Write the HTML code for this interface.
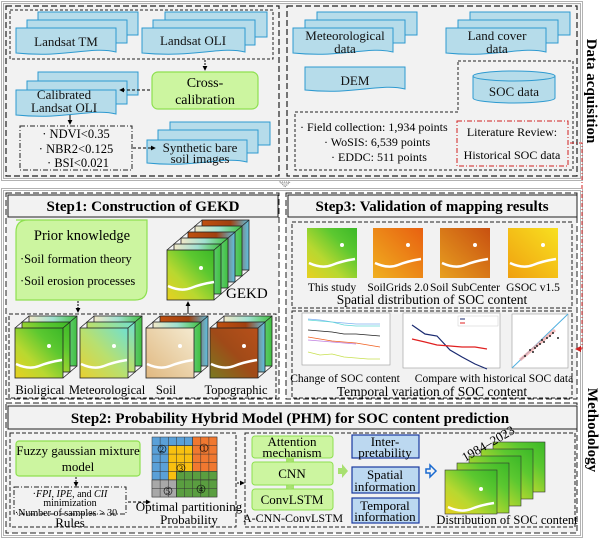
<!DOCTYPE html>
<html><head><meta charset="utf-8"><style>
html,body{margin:0;padding:0;background:#fff;}
svg{display:block;font-family:"Liberation Serif",serif;}
</style></head><body>
<svg width="600" height="540" viewBox="0 0 600 540" xmlns="http://www.w3.org/2000/svg">
<defs>
<linearGradient id="gm" x1="0" y1="1" x2="1" y2="0"><stop offset="0" stop-color="#e8d020"/><stop offset="0.35" stop-color="#b8d830"/><stop offset="0.7" stop-color="#5cc830"/><stop offset="1" stop-color="#3cb828"/></linearGradient>
<linearGradient id="mm" x1="0" y1="1" x2="1" y2="0"><stop offset="0" stop-color="#e8d030"/><stop offset="0.5" stop-color="#b8e070"/><stop offset="1" stop-color="#70e0d0"/></linearGradient>
<linearGradient id="sm" x1="0" y1="1" x2="1" y2="0"><stop offset="0" stop-color="#e0b880"/><stop offset="1" stop-color="#f4ead0"/></linearGradient>
<linearGradient id="tm" x1="0" y1="1" x2="1" y2="0"><stop offset="0" stop-color="#7a7a20"/><stop offset="0.5" stop-color="#a04a18"/><stop offset="1" stop-color="#b8501a"/></linearGradient>
<linearGradient id="om" x1="0" y1="1" x2="1" y2="0"><stop offset="0" stop-color="#f0b020"/><stop offset="1" stop-color="#e86010"/></linearGradient>
<linearGradient id="bm" x1="0" y1="1" x2="1" y2="0"><stop offset="0" stop-color="#e8a020"/><stop offset="1" stop-color="#c85010"/></linearGradient>
<linearGradient id="ym" x1="0" y1="1" x2="1" y2="0"><stop offset="0" stop-color="#f0a010"/><stop offset="1" stop-color="#f8e020"/></linearGradient>
<linearGradient id="lay" x1="0" y1="0" x2="1" y2="0"><stop offset="0" stop-color="#f0e8c8"/><stop offset="0.5" stop-color="#a0e0d0"/><stop offset="1" stop-color="#40c040"/></linearGradient>
<linearGradient id="lay2" x1="0" y1="0" x2="1" y2="0"><stop offset="0" stop-color="#c05010"/><stop offset="0.6" stop-color="#a04010"/><stop offset="1" stop-color="#60c0e0"/></linearGradient>
<marker id="ah" viewBox="0 0 6 6" refX="5" refY="3" markerWidth="5" markerHeight="5" orient="auto"><path d="M0,0L6,3L0,6z" fill="#000"/></marker>
<marker id="ahr" viewBox="0 0 6 6" refX="5" refY="3" markerWidth="6" markerHeight="6" orient="auto"><path d="M0,0L6,3L0,6z" fill="#d02020"/></marker>
<g id="stripe"><path d="M2,34 Q15,40 25,36 T48,30" stroke="#fff" stroke-width="2.5" fill="none"/><circle cx="35" cy="16" r="2" fill="#fff"/></g>
</defs>

<!-- ========== DATA ACQUISITION ========== -->
<rect x="1.5" y="1.5" width="581" height="179" fill="#fff" stroke="#666" stroke-width="1" stroke-dasharray="1,1"/>
<rect x="3.5" y="3.5" width="577" height="175" fill="#f2f2f2" stroke="#666" stroke-width="1" stroke-dasharray="1,1"/>
<rect x="6" y="6" width="273" height="170" fill="#f2f2f2" stroke="#222" stroke-width="1.2" stroke-dasharray="6,3"/>
<rect x="287" y="6" width="290" height="170" fill="#f2f2f2" stroke="#222" stroke-width="1.2" stroke-dasharray="6,3"/>
<rect x="10" y="10" width="263" height="49" fill="none" stroke="#222" stroke-width="1" stroke-dasharray="3,2"/>

<g fill="#b6dcea" stroke="#2e9ad0" stroke-width="1">
<path d="M38,12h100v23h-100z"/><path d="M27,20h100v23h-100z"/><path d="M16,28h100v24c-25,-6 -50,6 -100,1z"/>
<path d="M165,12h102v25h-102z"/><path d="M153,20h102v25h-102z"/><path d="M142,28h103v24c-25,-6 -50,6 -103,1z"/>
<path d="M38,72h100v23h-100z"/><path d="M27,81h100v23h-100z"/><path d="M16,90h100v24c-25,-6 -50,6 -100,1z"/>
<path d="M170,122h100v23h-100z"/><path d="M158,130h100v23h-100z"/><path d="M147,140h100v22c-25,-6 -50,6 -100,1z"/>
<path d="M317,12h100v23h-100z"/><path d="M305,20h100v23h-100z"/><path d="M293,28h100v24c-25,-6 -50,6 -100,1z"/>
<path d="M470,12h100v23h-100z"/><path d="M458,20h100v23h-100z"/><path d="M446,28h100v24c-25,-6 -50,6 -100,1z"/>
<path d="M305,67h100v22c-25,-6 -50,6 -100,1z"/>
<path d="M473,76v22a41,5 0 0 0 82,0v-22z"/><ellipse cx="514" cy="76" rx="41" ry="5"/>
</g>
<g font-size="13" text-anchor="middle" fill="#111">
<text x="66" y="46">Landsat TM</text>
<text x="193" y="45">Landsat OLI</text>
<text x="64" y="99">Calibrated</text>
<text x="64" y="112">Landsat OLI</text>
<text x="200" y="152">Synthetic bare</text>
<text x="200" y="163">soil images</text>
<text x="345" y="40">Meteorological</text>
<text x="345" y="53">data</text>
<text x="497" y="40">Land cover</text>
<text x="497" y="53">data</text>
<text x="355" y="85">DEM</text>
<text x="514" y="96">SOC data</text>
</g>
<path d="M205,60V70" stroke="#000" stroke-dasharray="2,1" marker-end="url(#ah)"/>
<rect x="152" y="72" width="106" height="37" rx="6" fill="#ccf5a0" stroke="#8ee050" stroke-width="1.2"/>
<text x="205" y="87" font-size="14" text-anchor="middle">Cross-</text>
<text x="205" y="104" font-size="14" text-anchor="middle">calibration</text>
<path d="M150,90H120" stroke="#000" stroke-dasharray="3,2" marker-end="url(#ah)"/>
<path d="M70,115V124" stroke="#000" marker-end="url(#ah)"/>
<rect x="20" y="126" width="112" height="44" fill="none" stroke="#222" stroke-dasharray="5,2,1,2"/>
<g font-size="12.5" text-anchor="middle"><text x="76" y="138">· NDVI&lt;0.35</text><text x="76" y="153">· NBR2&lt;0.125</text><text x="78" y="167">· BSI&lt;0.021</text></g>
<path d="M133,148H155" stroke="#000" stroke-dasharray="3,2" marker-end="url(#ah)"/>

<path d="M458,61H573V170H295V112H458Z" fill="none" stroke="#222" stroke-dasharray="3,2"/>
<g font-size="12"><text x="300" y="131">· Field collection: 1,934 points</text><text x="324" y="146">· WoSIS: 6,539 points</text><text x="331" y="161">· EDDC: 511 points</text></g>
<rect x="457" y="121" width="111" height="45" fill="none" stroke="#d02020" stroke-dasharray="5,2,1,2"/>
<g font-size="12" text-anchor="middle"><text x="512" y="136">Literature Review:</text><text x="512" y="159">Historical SOC data</text></g>
<text transform="translate(587,91) rotate(90)" font-size="15" font-weight="bold" text-anchor="middle">Data acquisition</text>
<path d="M280,182h10l-5,5z" fill="#ddd" stroke="#888" stroke-dasharray="1,1"/>

<!-- ========== METHODOLOGY ========== -->
<rect x="1.5" y="188.5" width="581" height="349" fill="#fff" stroke="#666" stroke-dasharray="1,1"/>
<rect x="3.5" y="190.5" width="577" height="345" fill="#fff" stroke="#666" stroke-dasharray="1,1"/>
<rect x="6" y="193" width="273" height="206" fill="#f2f2f2" stroke="#222" stroke-dasharray="6,3"/>
<rect x="286" y="193" width="291" height="206" fill="#f2f2f2" stroke="#222" stroke-dasharray="6,3"/>
<rect x="6" y="403" width="571" height="130" fill="#f2f2f2" stroke="#222" stroke-dasharray="6,3"/>
<rect x="8" y="195" width="270" height="22" fill="#f2f2f2" stroke="#222"/>
<rect x="288" y="195" width="289" height="22" fill="#f2f2f2" stroke="#222"/>
<rect x="8" y="406" width="569" height="23" fill="#f2f2f2" stroke="#222"/>
<g font-size="15" font-weight="bold" text-anchor="middle">
<text x="143" y="211">Step1: Construction of GEKD</text>
<text x="432" y="211">Step3: Validation of mapping results</text>
<text x="290" y="423">Step2: Probability Hybrid Model (PHM) for SOC content prediction</text>
</g>
<text transform="translate(588,430) rotate(90)" font-size="15" font-weight="bold" text-anchor="middle">Methodology</text>
<path d="M570,143H582V349" fill="none" stroke="#d02020" stroke-dasharray="4,2,1,2"/>
<path d="M582,349H576" stroke="#d02020" marker-end="url(#ahr)"/>

<!-- Step1 -->
<path d="M16,220H147V288Q147,300 135,300H16V232Q16,220 28,220Z" fill="#ccf5a0" stroke="#8ee050" stroke-width="1.2"/>
<text x="82" y="240" font-size="14.5" text-anchor="middle">Prior knowledge</text>
<text x="20" y="263" font-size="12.5">·Soil formation theory</text>
<text x="20" y="285" font-size="12.5">·Soil erosion processes</text>
<path d="M78,301V312" stroke="#000" stroke-dasharray="2,1" marker-end="url(#ah)"/>
<path d="M188,314V302" stroke="#000" marker-end="url(#ah)"/>
<rect x="9" y="314" width="267" height="84" fill="none" stroke="#222" stroke-dasharray="4,2"/>

<g stroke="#222" stroke-width="0.8">
<rect x="202" y="220" width="47" height="50" fill="url(#lay2)"/>
<rect x="195" y="226" width="47" height="50" fill="url(#lay)"/>
<rect x="188" y="232" width="47" height="50" fill="url(#lay2)"/>
<rect x="181" y="238" width="47" height="50" fill="url(#lay)"/>
<rect x="174" y="244" width="47" height="50" fill="url(#lay)"/>
<rect x="167" y="250" width="47" height="50" fill="url(#gm)"/>
<path d="M167,250L202,220M214,250L249,220M214,300L249,270" fill="none"/>
</g>
<use href="#stripe" x="166" y="252"/>
<text x="226" y="298" font-size="15">GEKD</text>

<g stroke="#222" stroke-width="0.8">
<rect x="29" y="316" width="48" height="50" fill="url(#lay)"/><rect x="22" y="322" width="48" height="50" fill="url(#gm)"/><rect x="15" y="328" width="48" height="50" fill="url(#gm)"/>
<path d="M15,328L29,316M63,328L77,316M63,378L77,366" fill="none"/>
<rect x="94" y="316" width="48" height="50" fill="url(#lay)"/><rect x="87" y="322" width="48" height="50" fill="url(#mm)"/><rect x="80" y="328" width="48" height="50" fill="url(#mm)"/>
<path d="M80,328L94,316M128,328L142,316M128,378L142,366" fill="none"/>
<rect x="160" y="316" width="48" height="50" fill="url(#lay2)"/><rect x="153" y="322" width="48" height="50" fill="url(#lay)"/><rect x="146" y="328" width="48" height="50" fill="url(#sm)"/>
<path d="M146,328L160,316M194,328L208,316M194,378L208,366" fill="none"/>
<rect x="224" y="316" width="48" height="50" fill="url(#lay)"/><rect x="217" y="322" width="48" height="50" fill="url(#lay2)"/><rect x="210" y="328" width="48" height="50" fill="url(#tm)"/>
<path d="M210,328L224,316M258,328L272,316M258,378L272,366" fill="none"/>
</g>
<use href="#stripe" x="14" y="330"/><use href="#stripe" x="79" y="330"/><use href="#stripe" x="145" y="330"/><use href="#stripe" x="209" y="330"/>
<g font-size="12.5" text-anchor="middle"><text x="40" y="394">Bioligical</text><text x="107" y="394">Meteorological</text><text x="166" y="394">Soil</text><text x="236" y="394">Topographic</text></g>

<!-- Step3 -->
<rect x="292" y="222" width="280" height="86" fill="none" stroke="#222" stroke-dasharray="4,2"/>
<rect x="292" y="311" width="280" height="87" fill="none" stroke="#222" stroke-dasharray="4,2"/>
<rect x="307" y="228" width="50" height="50" fill="url(#gm)"/><use href="#stripe" x="307" y="229"/>
<rect x="373" y="228" width="50" height="50" fill="url(#om)"/><use href="#stripe" x="373" y="229"/>
<rect x="440" y="228" width="50" height="50" fill="url(#bm)"/><use href="#stripe" x="440" y="229"/>
<rect x="508" y="228" width="50" height="50" fill="url(#ym)"/><use href="#stripe" x="508" y="229"/>
<g font-size="11.5" text-anchor="middle"><text x="332" y="291">This study</text><text x="398" y="291">SoilGrids 2.0</text><text x="465" y="291">Soil SubCenter</text><text x="533" y="291">GSOC v1.5</text></g>
<text x="432" y="304" font-size="13.5" text-anchor="middle">Spatial distribution of SOC content</text>
<rect x="302" y="313" width="88" height="52" fill="#fff" stroke="#999" stroke-width="0.6"/>
<g fill="none" stroke-width="0.8">
<polyline points="308,319 320,320 332,322 344,323 356,324 368,324 380,324" stroke="#80b0f0"/>
<polyline points="308,320 320,321 332,322 344,325 356,326 368,326 380,326" stroke="#60d8d8"/>
<polyline points="308,330 320,331 332,332 344,334 356,334 368,335 380,336" stroke="#222"/>
<polyline points="308,337 320,339 332,341 344,342 356,343 368,345 380,347" stroke="#f06020"/>
<polyline points="308,340 320,341 332,342 344,343 356,344" stroke="#c080e0"/>
<polyline points="308,352 320,355 332,354 344,357 356,358 368,359 380,359" stroke="#c8e050"/>
</g>
<rect x="403" y="313" width="97" height="55" fill="#fff" stroke="#999" stroke-width="0.6"/>
<polyline points="412,325 425,334 437,336 450,350 462,357 475,364 487,369" fill="none" stroke="#1a2a70" stroke-width="1.2"/>
<polyline points="412,339 425,342 437,345 450,346 462,347 475,347 487,349" fill="none" stroke="#e02020" stroke-width="1.2"/>
<rect x="458" y="316" width="40" height="10" fill="#fff" stroke="#aaa" stroke-width="0.3"/>
<path d="M460,319h5" stroke="#1a2a70"/><path d="M460,323h5" stroke="#e02020"/>
<rect x="512" y="314" width="56" height="54" fill="#fff" stroke="#999" stroke-width="0.6"/>
<path d="M512,368L568,314" stroke="#50b0e0"/>
<path d="M520,360L555,330" stroke="#f0a0a0" stroke-width="3" opacity="0.7"/>
<g fill="#222"><circle cx="525" cy="356" r="1"/><circle cx="530" cy="350" r="1"/><circle cx="533" cy="352" r="1"/><circle cx="537" cy="346" r="1"/><circle cx="540" cy="344" r="1"/><circle cx="544" cy="342" r="1"/><circle cx="547" cy="338" r="1"/><circle cx="550" cy="336" r="1"/><circle cx="553" cy="333" r="1"/><circle cx="558" cy="338" r="1"/><circle cx="535" cy="348" r="1"/><circle cx="542" cy="340" r="1"/></g>
<g font-size="11.5" text-anchor="middle"><text x="345" y="382">Change of SOC content</text><text x="494" y="382">Compare with historical SOC data</text></g>
<text x="432" y="396" font-size="13.5" text-anchor="middle">Temporal variation of SOC content</text>

<!-- Step2 -->
<rect x="10" y="433" width="226" height="94" fill="none" stroke="#222" stroke-dasharray="4,2"/>
<rect x="245" y="433" width="330" height="94" fill="none" stroke="#222" stroke-dasharray="4,2"/>
<rect x="16" y="441" width="124" height="35" rx="3" fill="#ccf5a0" stroke="#8ee050" stroke-width="1.2"/>
<text x="78" y="455" font-size="13" text-anchor="middle">Fuzzy gaussian mixture</text>
<text x="78" y="471" font-size="13" text-anchor="middle">model</text>
<path d="M76,477V486" stroke="#000" stroke-dasharray="2,1" marker-end="url(#ah)"/>
<rect x="14" y="487" width="112" height="27" fill="none" stroke="#222" stroke-dasharray="5,2,1,2"/>
<text x="70" y="497" font-size="10" text-anchor="middle">·<tspan font-style="italic">FPI</tspan>, <tspan font-style="italic">IPE</tspan>, and <tspan font-style="italic">CII</tspan></text>
<text x="70" y="506" font-size="10" text-anchor="middle">minimization</text>
<text x="66" y="516" font-size="10" text-anchor="middle">·Number of samples &gt; 30</text>
<text x="70" y="527" font-size="13" text-anchor="middle">Rules</text>
<path d="M128,502H150" stroke="#000" stroke-dasharray="3,2" marker-end="url(#ah)"/>
<g stroke="#333" stroke-width="0.5">
<rect x="152" y="437" width="65" height="60" fill="#5aa0d8"/>
<rect x="168.25" y="445.6" width="24.4" height="25.7" fill="#f8c010"/>
<rect x="168.25" y="471.3" width="16.25" height="8.6" fill="#f8c010"/>
<rect x="192.6" y="437" width="24.4" height="34.3" fill="#f07830"/>
<rect x="176.4" y="471.3" width="40.6" height="25.7" fill="#5a9e40"/>
<rect x="192.6" y="471.3" width="24.4" height="8.6" fill="#5a9e40"/>
<rect x="152" y="479.9" width="24.4" height="17.1" fill="#a8a8a8"/>
<path d="M160.1,437V497M168.3,437V497M176.4,437V497M184.5,437V497M192.6,437V497M200.8,437V497M208.9,437V497M152,445.6H217M152,454.1H217M152,462.7H217M152,471.3H217M152,479.9H217M152,488.4H217"/>
</g>
<g fill="none" stroke="#000" stroke-width="0.6">
<circle cx="162" cy="449" r="4"/><circle cx="204" cy="448" r="4"/><circle cx="181" cy="468" r="4"/><circle cx="201" cy="489" r="4"/><circle cx="168" cy="491" r="4"/></g>
<g font-size="8" text-anchor="middle"><text x="162" y="452">2</text><text x="204" y="451">1</text><text x="181" y="471">3</text><text x="201" y="492">4</text><text x="168" y="494">5</text></g>
<text x="189" y="511" font-size="13" text-anchor="middle">Optimal partitioning</text>
<text x="189" y="524" font-size="13" text-anchor="middle">Probability</text>
<path d="M237,483H244" stroke="#000" stroke-dasharray="2,1" marker-end="url(#ah)"/>

<rect x="252" y="436" width="81" height="22" rx="3" fill="#ccf5a0" stroke="#8ee050"/>
<rect x="252" y="462" width="81" height="23" rx="3" fill="#ccf5a0" stroke="#8ee050"/>
<rect x="252" y="489" width="81" height="21" rx="3" fill="#ccf5a0" stroke="#8ee050"/>
<path d="M290,458v4M286,460h8M290,485v4M286,487h8" stroke="#a8e070" stroke-width="3"/>
<g font-size="13" text-anchor="middle"><text x="292" y="446">Attention</text><text x="292" y="457">mechanism</text><text x="292" y="478">CNN</text><text x="292" y="504">ConvLSTM</text></g>
<text x="293" y="522" font-size="12" text-anchor="middle">A-CNN-ConvLSTM</text>
<path d="M338,468h4v-4l6,7l-6,7v-4h-4z" fill="#a8e070"/>
<g fill="#bcd8f0" stroke="#1a3aa0" stroke-width="1.2">
<rect x="352" y="435" width="67" height="23"/><rect x="352" y="467" width="67" height="26"/><rect x="352" y="498" width="67" height="25"/></g>
<g font-size="13" text-anchor="middle"><text x="385" y="446">Inter-</text><text x="385" y="457">pretability</text><text x="385" y="479">Spatial</text><text x="385" y="491">information</text><text x="385" y="510">Temporal</text><text x="385" y="521">information</text></g>
<path d="M426,469h4v-4l6,6l-6,6v-4h-4z" fill="none" stroke="#1a6ad0" stroke-width="1.5"/>
<g stroke="#333" stroke-width="0.6">
<rect x="493" y="442" width="52" height="50" fill="url(#gm)"/>
<rect x="481" y="449" width="52" height="50" fill="url(#gm)"/>
<rect x="469" y="456" width="52" height="50" fill="url(#gm)"/>
<rect x="457" y="463" width="52" height="50" fill="url(#gm)"/>
<rect x="445" y="470" width="52" height="44" fill="url(#gm)"/>
</g>
<use href="#stripe" x="446" y="473"/>
<text transform="translate(465,462) rotate(-30)" font-size="13">1984–2023</text>
<text x="507" y="524" font-size="12.5" text-anchor="middle">Distribution of SOC content</text>
</svg>
</body></html>
